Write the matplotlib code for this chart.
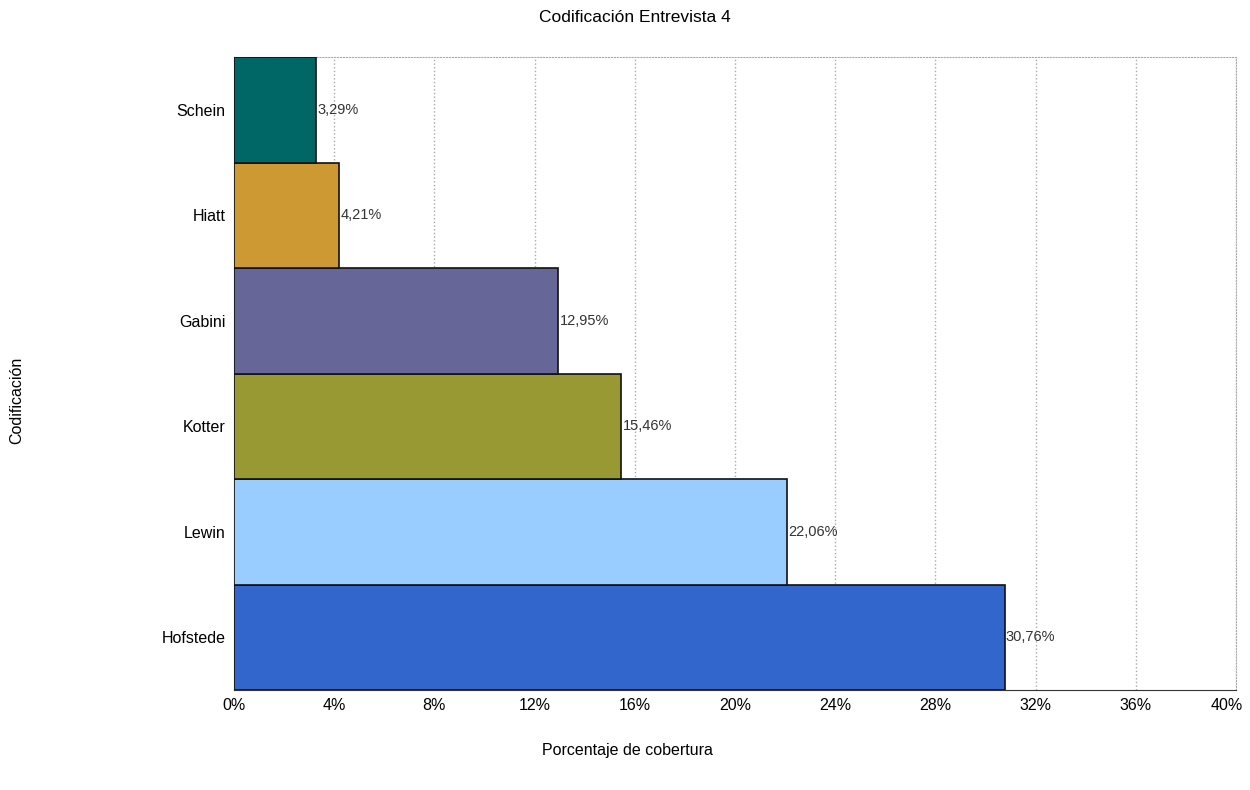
import matplotlib.pyplot as plt
from matplotlib import ticker

plt.rcParams['font.family'] = ['Liberation Sans', 'DejaVu Sans']

categories = ['Hofstede', 'Lewin', 'Kotter', 'Gabini', 'Hiatt', 'Schein']
values = [30.76, 22.06, 15.46, 12.95, 4.21, 3.29]
colors = ['#3366CC', '#99CCFF', '#999933', '#666699', '#CC9933', '#006666']
value_labels = ['30,76%', '22,06%', '15,46%', '12,95%', '4,21%', '3,29%']
x_ticks = [0, 4, 8, 12, 16, 20, 24, 28, 32, 36, 40]


def pct(x):
    return '%d%%' % x


fig = plt.figure(figsize=(12.5, 7.9), dpi=100)
ax = fig.add_axes([234 / 1250, 1 - 690 / 790, (1236 - 234) / 1250, (690 - 57) / 790])

ax.barh(range(len(categories)), values, height=1.0, color=colors,
        edgecolor='#111111', linewidth=1.2, zorder=3)

for i, (v, lab) in enumerate(zip(values, value_labels)):
    ax.text(v + 0.05, i, lab, va='center', ha='left', fontsize=10.5, color='#333333', zorder=4)

ax.set_xlim(x_ticks[0], x_ticks[-1])
ax.set_ylim(-0.5, len(categories) - 0.5)
ax.set_xticks(x_ticks)
# the last label is drawn separately, nudged left so it stays inside the figure
ax.set_xticklabels([pct(t) for t in x_ticks[:-1]] + [''])
ax.annotate(pct(x_ticks[-1]), xy=(x_ticks[-1], 0), xycoords=('data', 'axes fraction'),
            xytext=(-7, -6), textcoords='offset points', ha='center', va='top', fontsize=11.5)
ax.set_yticks(range(len(categories)))
ax.set_yticklabels(categories)
ax.tick_params(axis='both', length=0, labelsize=11.5, pad=6)

ax.grid(True, axis='x', color='#aaaaaa', linestyle=':', linewidth=1, zorder=0)
ax.spines['top'].set_linestyle(':')
ax.spines['top'].set_color('#aaaaaa')
ax.spines['right'].set_linestyle(':')
ax.spines['right'].set_color('#aaaaaa')
ax.spines['left'].set_color('#333333')
ax.spines['bottom'].set_color('#333333')

fig.text(635 / 1250, 1 - 18 / 790, 'Codificación Entrevista 4', ha='center', va='center', fontsize=12.5)
fig.text(627 / 1250, 1 - 750 / 790, 'Porcentaje de cobertura', ha='center', va='center', fontsize=11.5)
fig.text(17 / 1250, 1 - 400 / 790, 'Codificación', ha='center', va='center', rotation=90, fontsize=11.5)

fig.savefig('out.png', dpi=100)
